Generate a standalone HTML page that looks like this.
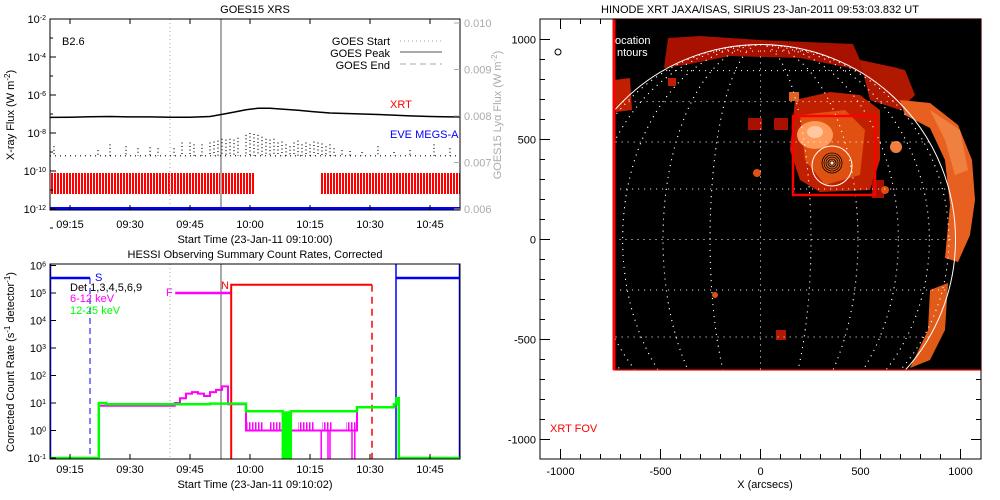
<!DOCTYPE html>
<html><head><meta charset="utf-8"><style>
html,body{margin:0;padding:0;background:#fff}
svg{display:block}
text{font-family:"Liberation Sans",sans-serif;font-size:11px}
</style></head><body>
<svg id="s" width="1000" height="500" viewBox="0 0 1000 500">
<defs>
<pattern id="stripes" width="3" height="10" patternUnits="userSpaceOnUse"><rect x="0" y="0" width="2" height="10" fill="#f00"/></pattern>
<pattern id="mstripes" width="3" height="10" patternUnits="userSpaceOnUse"><rect x="0" y="0" width="1.5" height="10" fill="#f0f"/></pattern>
<clipPath id="fovclip"><rect x="614" y="19" width="367" height="351"/></clipPath>
<clipPath id="diskclip"><circle cx="760.5" cy="239.5" r="195"/></clipPath>
</defs>

<g>
<text x="255" y="13" text-anchor="middle" font-size="12">GOES15 XRS</text>
<g id="goesPlot"></g>
<rect x="50" y="19" width="410" height="191" fill="none" stroke="#000" stroke-width="1"/>
<g id="goesAxes"></g>
<text x="62" y="45">B2.6</text>
<g>
<text x="390" y="45" text-anchor="end">GOES Start</text>
<line x1="400" y1="41" x2="442" y2="41" stroke="#aaa" stroke-dasharray="1 3"/>
<text x="390" y="57" text-anchor="end">GOES Peak</text>
<line x1="400" y1="52" x2="442" y2="52" stroke="#aaa" stroke-width="2"/>
<text x="390" y="69" text-anchor="end">GOES End</text>
<line x1="400" y1="64" x2="442" y2="64" stroke="#aaa" stroke-dasharray="6 4"/>
</g>
<text x="390" y="108" fill="#f00">XRT</text>
<text x="390" y="138" fill="#00f">EVE MEGS-A</text>
<text x="255" y="243" text-anchor="middle">Start Time (23-Jan-11 09:10:00)</text>
<text transform="translate(14,115) rotate(-90)" text-anchor="middle">X-ray Flux (W m<tspan baseline-shift="super" font-size="8">-2</tspan>)</text>
<text transform="translate(501,115) rotate(-90)" text-anchor="middle" fill="#aaa">GOES15 Lyα Flux (W m<tspan baseline-shift="super" font-size="8">-2</tspan>)</text>
</g>

<g>
<text x="255" y="258" text-anchor="middle" font-size="12">HESSI Observing Summary Count Rates, Corrected</text>
<g id="hessiPlot"></g>
<rect x="50" y="264" width="410" height="195" fill="none" stroke="#000"/>
<g id="hessiAxes"></g>
<text x="70" y="291">Det 1,3,4,5,6,9</text>
<text x="70" y="302" fill="#f0f">6-12 keV</text>
<text x="70" y="314" fill="#0f0">12-25 keV</text>
<text x="95" y="281" fill="#00f" font-size="9">S</text>
<text x="166" y="296" fill="#f0f" font-size="9">F</text>
<text x="221" y="289" fill="#f00" font-size="9">N</text>
<text x="255" y="488" text-anchor="middle">Start Time (23-Jan-11 09:10:02)</text>
<text transform="translate(14,362) rotate(-90)" text-anchor="middle" font-size="10.5">Corrected Count Rate (s<tspan baseline-shift="super" font-size="8">-1</tspan> detector<tspan baseline-shift="super" font-size="8">-1</tspan>)</text>
</g>

<g>
<text x="760" y="13" text-anchor="middle" font-size="12">HINODE XRT JAXA/ISAS, SIRIUS 23-Jan-2011 09:53:03.832 UT</text>
<g>
<rect x="614" y="19" width="367" height="351" fill="#000"/>
<g clip-path="url(#fovclip)">
<path d="M668,38 L700,36 L760,40 L853,44 L860,60 L898,68 L905,85 L880,82 L850,68 L800,58 L730,56 L690,64 L664,68 Z" fill="#a81000"/>
<path d="M795,100 L830,92 L860,95 L880,110 L880,160 L870,190 L820,192 L800,180 L790,150 Z" fill="#c02000"/>
<path d="M800,115 L845,110 L865,130 L860,175 L825,185 L805,160 Z" fill="#e05010"/>
<ellipse cx="815" cy="135" rx="18" ry="14" fill="#ff9a5a"/>
<ellipse cx="815" cy="132" rx="8" ry="6" fill="#ffc8a0"/>
<path d="M860,60 L905,70 L915,95 L900,110 L870,100 Z" fill="#b01800"/>
<path d="M900,100 L930,103 L958,125 L972,160 L975,200 L970,235 L958,262 L945,258 L950,205 L945,160 L930,128 L905,115 Z" fill="#e86020"/>
<path d="M930,110 L960,130 L968,170 L955,175 L945,140 Z" fill="#f08040"/>
<path d="M930,290 L948,283 L945,330 L930,360 L910,368 L928,330 Z" fill="#e05a18"/>
<path d="M614,80 L630,78 L632,110 L616,112 Z" fill="#c02000"/>
<rect x="668" y="78" width="8" height="8" fill="#c02000"/>
<rect x="748" y="118" width="14" height="12" fill="#a81000"/>
<rect x="774" y="118" width="14" height="12" fill="#a81000"/>
<rect x="872" y="180" width="12" height="18" fill="#a81000"/>
<circle cx="757" cy="173" r="4" fill="#e05010"/>
<circle cx="715" cy="295" r="3" fill="#e05010"/>
<rect x="776" y="330" width="10" height="10" fill="#b01800"/>
<circle cx="885" cy="190" r="4" fill="#e05010"/>
<circle cx="896" cy="147" r="6" fill="#f08040"/>
<rect x="789" y="92" width="10" height="9" fill="#e06020"/>
</g>
<g id="grid" clip-path="url(#diskclip)"></g>
<circle cx="760.5" cy="239.5" r="195" fill="none" stroke="#fff" stroke-width="1" clip-path="url(#fovclip)"/>
<rect x="793" y="116" width="82" height="79" fill="none" stroke="#f00" stroke-width="2.5"/>
<circle cx="832" cy="166" r="20" fill="none" stroke="#fff"/>
<g fill="none" stroke="#000" stroke-width="0.8">
<circle cx="832" cy="163" r="10" fill="#e06020"/><circle cx="832" cy="163" r="8"/><circle cx="832" cy="163" r="6"/><circle cx="832" cy="163" r="4"/><circle cx="832" cy="163" r="2" fill="#fff"/>
</g>
<rect x="614" y="19" width="367" height="351" fill="none" stroke="#f00" stroke-width="1.2"/>
<line x1="614" y1="19" x2="614" y2="370" stroke="#f00" stroke-width="3"/>
<text x="615" y="44" fill="#fff">ocation</text>
<text x="617" y="56" fill="#fff">ntours</text>
</g>
<rect x="540" y="19" width="441" height="440" fill="none" stroke="#000"/>
<g id="xrtAxes"></g>
<circle cx="558" cy="52" r="3" fill="none" stroke="#000"/>
<text x="550" y="432" fill="#f00">XRT FOV</text>
<text x="765" y="488" text-anchor="middle">X (arcsecs)</text>
</g>
</svg>
<script>
// ---------- data ----------
const goesTicksX = ["09:15","09:30","09:45","10:00","10:15","10:30","10:45"];
const goesTickMin = [5,20,35,50,65,80,95];
const goesYExp = [-2,-4,-6,-8,-10,-12];
const lyaTicks = ["0.010","0.009","0.008","0.007","0.006"];
const lyaVals = [0.010,0.009,0.008,0.007,0.006];
const xrsMin = [0,5,10,15,20,25,30,35,40,43,46,49,52,55,58,62,66,70,75,80,85,90,95,100,102.5];
const xrsLog = [-7.18,-7.17,-7.14,-7.13,-7.15,-7.15,-7.17,-7.17,-7.13,-7.02,-6.90,-6.78,-6.70,-6.70,-6.74,-6.80,-6.88,-6.95,-6.98,-7.01,-7.05,-7.10,-7.13,-7.15,-7.15];
const xsMin = [1,12,15,19,22,25,27,31,33,35,36,38,40,41,42,43,44,45,46,47,49,50,51,52,53,54,55,56,57,58,59,60,61,62,63,64,65,66,67,68,69,70,71,73,75,78,82,86,90,96,100];
const xsLog = [-8.7,-8.9,-8.6,-8.7,-8.8,-8.75,-8.8,-8.8,-8.5,-8.5,-8.6,-8.6,-8.5,-8.45,-8.4,-8.3,-8.35,-8.3,-8.35,-8.25,-8.1,-8.0,-8.05,-8.1,-8.2,-8.3,-8.35,-8.3,-8.5,-8.45,-8.6,-8.7,-8.5,-8.4,-8.6,-8.5,-8.6,-8.45,-8.5,-8.55,-8.7,-8.6,-8.8,-8.9,-8.95,-9.0,-8.7,-9.0,-8.9,-8.6,-8.8];
const xsBase = -9.2;
const xrtObs = [[0,51.2],[67.7,102.5]];
const goesStartMin = 30, goesPeakMin = 42.75;

const hTickExp = [6,5,4,3,2,1,0,-1];
// HESSI 12-25 keV steps (minute, value starting there)
const grnMin = [0,12.2,14,20,30,40,49,58.2,60.2,76.75,86,86.6,87.2,87.5,102.5];
const grnVal = [0.1,10,9,9,9,9.5,5,0.1,5,7,9,15,0.1,0.1,0.1];
// HESSI 6-12 keV steps
const magMin = [12.2,14,20,31.2,32.5,34,35.5,37,38.5,40,41.5,43,44.5,49,76.75,86.6];
const magVal = [8,8,8,10,15,22,25,22,18,25,30,40,9,1,7,7];
const magDips = [67.8,69.5,70,75.5,76.2];
const magNoise = [[49,53.5],[55,60],[62,66],[68,70.5],[74,76.5]];
const blueHigh = [[0,10],[86.5,102.5]];
const saaDash = 10, nightStart = 45.3, nightEnd = 80.5, flareStart = 31.3;
const nightLevel = 2e5, flareLevel = 1e5, saaLevel = 3.5e5;

const xrtTicks = [-1000,-500,0,500,1000];
const gridLon = [-75,-60,-45,-30,-15,0,15,30,45,60,75];
const gridLat = [-75,-60,-45,-30,-15,0,15,30,45,60,75];

// ---------- helpers ----------
const NS="http://www.w3.org/2000/svg";
function mk(parent,tag,attrs){const e=document.createElementNS(NS,tag);for(const k in attrs)e.setAttribute(k,attrs[k]);parent.appendChild(e);return e;}
const tx = m => 50 + m*4;
const gy = v => 19 + (-2 - v)*19;
const ly = v => 209 - (v-0.006)/0.004*186;
const hy = v => 458 - (Math.log10(v)+1)*27.5;
const sx = a => 760.5 + a*0.2;
const sy = a => 239.5 - a*0.2;

// ---------- GOES ----------
const gp=document.getElementById('goesPlot'), ga=document.getElementById('goesAxes');
xrtObs.forEach(r=>{const e=mk(gp,'rect',{x:tx(r[0]),y:173,width:tx(r[1])-tx(r[0]),height:21,fill:'url(#stripes)'});

});
let e=mk(gp,'line',{x1:tx(goesStartMin),y1:19,x2:tx(goesStartMin),y2:210,stroke:'#aaa','stroke-dasharray':'1 3'});


e=mk(gp,'line',{x1:tx(goesPeakMin),y1:19,x2:tx(goesPeakMin),y2:210,stroke:'#aaa','stroke-width':2});


e=mk(gp,'polyline',{points:xrsMin.map((m,i)=>tx(m)+','+gy(xrsLog[i]).toFixed(1)).join(' '),fill:'none',stroke:'#000','stroke-width':1.5});


e=mk(gp,'line',{x1:tx(0),y1:gy(xsBase),x2:tx(102.5),y2:gy(xsBase),stroke:'#000','stroke-width':1.2,'stroke-dasharray':'1 4'});


xsMin.forEach((m,i)=>{const d=mk(gp,'line',{x1:tx(m),y1:gy(xsLog[i]),x2:tx(m),y2:gy(xsBase),stroke:'#000','stroke-width':1.2,'stroke-dasharray':'1 2.5'});

});
e=mk(gp,'line',{x1:50,y1:208.5,x2:460,y2:208.5,stroke:'#00f','stroke-width':3});


goesTickMin.forEach((m,i)=>{mk(ga,'line',{x1:tx(m),y1:210,x2:tx(m),y2:205,stroke:'#000'});mk(ga,'line',{x1:tx(m),y1:19,x2:tx(m),y2:24,stroke:'#000'});
const t=mk(ga,'text',{x:tx(m),y:228,'text-anchor':'middle'});t.textContent=goesTicksX[i];

});
goesYExp.forEach(v=>{mk(ga,'line',{x1:50,y1:gy(v),x2:56,y2:gy(v),stroke:'#000'});mk(ga,'line',{x1:50,y1:gy(v-1),x2:53,y2:gy(v-1),stroke:'#000'});
const t=mk(ga,'text',{x:46,y:gy(v)+4,'text-anchor':'end'});t.innerHTML='10<tspan baseline-shift="super" font-size="7">'+v+'</tspan>';

});
lyaVals.forEach((v,i)=>{mk(ga,'line',{x1:460,y1:ly(v),x2:454,y2:ly(v),stroke:'#aaa'});
const t=mk(ga,'text',{x:464,y:ly(v)+4,fill:'#aaa'});t.textContent=lyaTicks[i];

});

// ---------- HESSI ----------
const hp=document.getElementById('hessiPlot'), ha=document.getElementById('hessiAxes');
function stepPts(ms,vs){let p=[];for(let i=0;i<ms.length;i++){if(i>0)p.push(tx(ms[i])+','+hy(vs[i-1]).toFixed(1));p.push(tx(ms[i])+','+hy(vs[i]).toFixed(1));}return p.join(' ');}
e=mk(hp,'line',{x1:tx(goesStartMin),y1:264,x2:tx(goesStartMin),y2:459,stroke:'#aaa','stroke-dasharray':'1 3'});


e=mk(hp,'line',{x1:tx(goesPeakMin),y1:264,x2:tx(goesPeakMin),y2:459,stroke:'#aaa','stroke-width':2});


blueHigh.forEach(r=>{const b=mk(hp,'line',{x1:tx(r[0]),y1:hy(saaLevel),x2:tx(r[1]),y2:hy(saaLevel),stroke:'#00f','stroke-width':2.5});

});
e=mk(hp,'line',{x1:tx(saaDash),y1:hy(saaLevel),x2:tx(saaDash),y2:459,stroke:'#00f','stroke-dasharray':'6 4'});


e=mk(hp,'line',{x1:tx(blueHigh[1][0]),y1:264,x2:tx(blueHigh[1][0]),y2:459,stroke:'#00f','stroke-width':1.5});


mk(hp,'line',{x1:50.5,y1:264,x2:50.5,y2:459,stroke:'#00f','stroke-width':1.5});
mk(hp,'line',{x1:459.5,y1:264,x2:459.5,y2:459,stroke:'#00f','stroke-width':1.5});
e=mk(hp,'line',{x1:tx(flareStart),y1:hy(flareLevel),x2:tx(nightStart),y2:hy(flareLevel),stroke:'#f0f','stroke-width':2.5});


e=mk(hp,'polyline',{points:[tx(nightStart)+',459',tx(nightStart)+','+hy(nightLevel),tx(nightEnd)+','+hy(nightLevel)].join(' '),fill:'none',stroke:'#f00','stroke-width':2});


e=mk(hp,'line',{x1:tx(nightEnd),y1:hy(nightLevel),x2:tx(nightEnd),y2:459,stroke:'#f00','stroke-width':1.5,'stroke-dasharray':'7 5'});


magNoise.forEach(r=>{const n=mk(hp,'rect',{x:tx(r[0]),y:hy(2),width:tx(r[1])-tx(r[0]),height:hy(1)-hy(2),fill:'url(#mstripes)'});

});
e=mk(hp,'polyline',{points:stepPts(magMin,magVal),fill:'none',stroke:'#f0f','stroke-width':2});


e=mk(hp,'line',{x1:tx(12.2),y1:hy(8),x2:tx(12.2),y2:459,stroke:'#f0f','stroke-width':1});


magDips.forEach(m=>{const d=mk(hp,'line',{x1:tx(m),y1:hy(1),x2:tx(m),y2:459,stroke:'#f0f','stroke-width':1.5});

});
e=mk(hp,'polyline',{points:stepPts(grnMin,grnVal),fill:'none',stroke:'#0f0','stroke-width':2.5});


e=mk(hp,'rect',{x:tx(grnMin[7]),y:hy(5),width:tx(grnMin[8])-tx(grnMin[7]),height:459-hy(5),fill:'#0f0'});


goesTickMin.forEach((m,i)=>{mk(ha,'line',{x1:tx(m),y1:459,x2:tx(m),y2:454,stroke:'#000'});
const t=mk(ha,'text',{x:tx(m),y:473,'text-anchor':'middle'});t.textContent=goesTicksX[i];

});
hTickExp.forEach(v=>{mk(ha,'line',{x1:50,y1:hy(Math.pow(10,v)),x2:56,y2:hy(Math.pow(10,v)),stroke:'#000'});
const t=mk(ha,'text',{x:46,y:hy(Math.pow(10,v))+4,'text-anchor':'end'});t.innerHTML='10<tspan baseline-shift="super" font-size="7">'+v+'</tspan>';

});

// ---------- XRT grid & axes ----------
const gr=document.getElementById('grid'), R=195, cx=760.5, cy=239.5;
gridLon.forEach(l=>{const rx=Math.abs(R*Math.sin(l*Math.PI/180));
const g=l===0?mk(gr,'line',{x1:cx,y1:cy-R,x2:cx,y2:cy+R,stroke:'#fff','stroke-dasharray':'1 5'}):mk(gr,'ellipse',{cx:cx,cy:cy,rx:rx,ry:R,fill:'none',stroke:'#fff','stroke-dasharray':'1 5'});

});
gridLat.forEach(l=>{const y=cy-R*Math.sin(l*Math.PI/180),w=R*Math.cos(l*Math.PI/180);
const g=mk(gr,'line',{x1:cx-w,y1:y,x2:cx+w,y2:y,stroke:'#fff','stroke-dasharray':'1 5'});

});
const xa=document.getElementById('xrtAxes');
xrtTicks.forEach(v=>{mk(xa,'line',{x1:sx(v),y1:459,x2:sx(v),y2:449,stroke:'#000'});mk(xa,'line',{x1:sx(v),y1:19,x2:sx(v),y2:29,stroke:'#000'});
mk(xa,'line',{x1:540,y1:sy(v),x2:550,y2:sy(v),stroke:'#000'});mk(xa,'line',{x1:981,y1:sy(v),x2:971,y2:sy(v),stroke:'#000'});
let t=mk(xa,'text',{x:sx(v),y:475,'text-anchor':'middle'});t.textContent=v;


t=mk(xa,'text',{x:536,y:sy(v)+4,'text-anchor':'end'});t.textContent=v;

});
for(let v=-1000;v<=1000;v+=100){if(v%500===0)continue;
mk(xa,'line',{x1:sx(v),y1:459,x2:sx(v),y2:454,stroke:'#000'});mk(xa,'line',{x1:sx(v),y1:19,x2:sx(v),y2:24,stroke:'#000'});
mk(xa,'line',{x1:540,y1:sy(v),x2:545,y2:sy(v),stroke:'#000'});mk(xa,'line',{x1:981,y1:sy(v),x2:976,y2:sy(v),stroke:'#000'});}
</script>
</body></html>
